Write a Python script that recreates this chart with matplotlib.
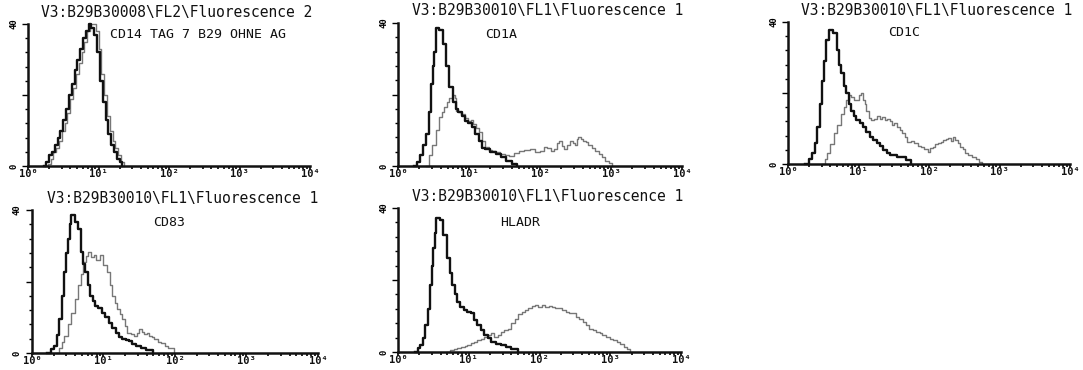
import numpy as np
import matplotlib.pyplot as plt
from matplotlib.ticker import LogLocator, MultipleLocator, NullFormatter

# --- Data (x in log10 fluorescence channel, y = cell count) ---
cd14_ctrl_x = [0.22, 0.26, 0.30, 0.34, 0.38, 0.42, 0.46, 0.50, 0.54, 0.58, 0.62, 0.66, 0.70, 0.74, 0.78,
               0.82, 0.86, 0.90, 0.94, 0.98, 1.02, 1.06, 1.10, 1.14, 1.18, 1.22, 1.26, 1.30, 1.34]
cd14_ctrl_y = [0, 1, 3, 4, 6, 8, 10, 13, 16, 20, 23, 27, 30, 33, 36, 38, 40, 39, 37, 32, 24, 18, 13, 9, 6, 4, 2, 1, 0]
cd14_stain_x = [0.24, 0.28, 0.32, 0.36, 0.40, 0.44, 0.48, 0.52, 0.56, 0.60, 0.64, 0.68, 0.72, 0.76, 0.80,
                0.84, 0.88, 0.92, 0.96, 1.00, 1.04, 1.08, 1.12, 1.16, 1.20, 1.24, 1.28, 1.32, 1.36]
cd14_stain_y = [0, 0.5, 2, 4, 5, 7, 10, 12, 15, 19, 22, 26, 29, 32, 35, 38, 40, 40, 38, 33, 26, 20, 14, 10, 7, 5, 3, 1, 0]

cd1a_ctrl_x = [0.22, 0.27, 0.31, 0.35, 0.39, 0.43, 0.46, 0.49, 0.51, 0.54, 0.58, 0.63, 0.68, 0.72, 0.77,
               0.81, 0.85, 0.90, 0.94, 0.99, 1.04, 1.09, 1.14, 1.19, 1.23, 1.30, 1.38, 1.45, 1.52, 1.60, 1.67]
cd1a_ctrl_y = [0, 1, 3, 6, 9, 15, 23, 28, 32, 38.5, 38, 34, 28, 22, 18, 16, 15, 14, 12.7, 12, 11, 9, 7, 5,
               4.7, 4, 3.3, 2.5, 1.4, 0.5, 0]
cd1a_stain_x = [0.39, 0.44, 0.48, 0.53, 0.58, 0.62, 0.65, 0.69, 0.72, 0.77, 0.80, 0.82, 0.86, 0.89, 0.94,
                0.99, 1.03, 1.06, 1.10, 1.14, 1.18, 1.23, 1.28, 1.33, 1.38, 1.43, 1.50, 1.57, 1.64, 1.71,
                1.78, 1.86, 1.93, 2.00, 2.05, 2.10, 2.15, 2.20, 2.24, 2.27, 2.31, 2.34, 2.38, 2.42, 2.46,
                2.49, 2.52, 2.54, 2.58, 2.61, 2.65, 2.68, 2.73, 2.78, 2.83, 2.87, 2.92, 2.97, 3.02]
cd1a_stain_y = [0, 3, 6, 10, 13.7, 15, 16.5, 18, 19, 20, 19, 15.5, 15, 14.6, 13.5, 12.7, 13, 11.8, 10.5, 9.4,
                7, 5.2, 4.5, 4.2, 4, 3.3, 3, 2.8, 3.5, 4.2, 4.5, 4.7, 4, 4.2, 5.2, 5, 4.2, 4.8, 6.5, 7,
                5.5, 4.7, 6, 7, 6.5, 6, 7.5, 8, 7.5, 7, 6.8, 6, 5, 4.2, 3.3, 2.4, 1.5, 0.9, 0]

cd1c_ctrl_x = [0.24, 0.30, 0.34, 0.38, 0.41, 0.45, 0.48, 0.51, 0.54, 0.58, 0.64, 0.69, 0.72, 0.75, 0.79,
               0.82, 0.86, 0.89, 0.93, 0.97, 1.02, 1.06, 1.11, 1.16, 1.21, 1.26, 1.31, 1.35, 1.40, 1.45,
               1.55, 1.67, 1.74]
cd1c_ctrl_y = [0, 1.5, 3, 6, 10.5, 17, 23.5, 29, 35, 37.7, 37, 32, 28, 25.5, 22, 20, 17, 15, 13.5, 12.3,
               11.5, 10.5, 9, 7.7, 6.8, 5.8, 5, 4, 3.2, 2.5, 2, 1.1, 0]
cd1c_stain_x = [0.48, 0.53, 0.56, 0.60, 0.65, 0.70, 0.75, 0.79, 0.82, 0.86, 0.89, 0.93, 0.97, 1.01, 1.04,
                1.06, 1.09, 1.11, 1.15, 1.18, 1.22, 1.26, 1.30, 1.33, 1.37, 1.40, 1.44, 1.47, 1.51, 1.55,
                1.59, 1.62, 1.66, 1.69, 1.74, 1.79, 1.84, 1.88, 1.93, 1.98, 2.02, 2.05, 2.09, 2.13, 2.17,
                2.20, 2.24, 2.27, 2.31, 2.34, 2.37, 2.41, 2.44, 2.48, 2.51, 2.56, 2.61, 2.66, 2.71, 2.75]
cd1c_stain_y = [0, 1.5, 3, 5.5, 8.6, 11, 14, 16, 18, 19.5, 19, 18, 18, 19.4, 20, 18, 17, 15, 13, 12.3, 12.8,
                13.5, 12.8, 13.3, 12.5, 12.8, 12, 11, 11.5, 10.5, 9.5, 8.6, 7.5, 6.3, 6.5, 5.8, 5.2, 4.9,
                4.2, 3.5, 4.5, 4.9, 5.5, 5.8, 6.2, 6.7, 7, 7.2, 6.5, 7.5, 6.7, 6, 4.9, 4.2, 3, 2.5, 2,
                1.4, 0.7, 0]

cd83_ctrl_x = [0.21, 0.27, 0.31, 0.35, 0.38, 0.42, 0.45, 0.48, 0.50, 0.53, 0.55, 0.60, 0.65, 0.69, 0.72,
               0.74, 0.78, 0.81, 0.85, 0.88, 0.93, 0.98, 1.02, 1.07, 1.12, 1.17, 1.22, 1.26, 1.31, 1.36,
               1.40, 1.45, 1.52, 1.60, 1.69]
cd83_ctrl_y = [0, 1, 1.9, 5, 9.4, 16, 22.6, 28, 32, 36, 38.6, 36.7, 34.8, 28.3, 25, 22.6, 19, 16, 14.5,
               13.2, 12.5, 11.3, 10, 8.5, 7, 5.7, 4.5, 3.8, 3.5, 3.3, 2.5, 1.9, 1.4, 0.9, 0]
cd83_stain_x = [0.33, 0.38, 0.42, 0.45, 0.50, 0.55, 0.60, 0.64, 0.68, 0.71, 0.75, 0.79, 0.83, 0.87, 0.90,
                0.95, 1.00, 1.05, 1.09, 1.12, 1.16, 1.19, 1.23, 1.26, 1.30, 1.33, 1.38, 1.43, 1.47, 1.50,
                1.54, 1.57, 1.61, 1.64, 1.68, 1.71, 1.76, 1.81, 1.86, 1.90, 1.98]
cd83_stain_y = [0, 1.5, 3, 4.7, 8, 11.3, 15, 18.9, 22, 25.5, 27, 28.3, 26.9, 27.5, 26, 27.4, 24.5, 22.6,
                19, 16, 14, 12.3, 11, 9.4, 7.5, 5.7, 5.2, 4.7, 5.5, 6.6, 6, 5.2, 5.5, 4.7, 4.5, 3.8, 3.2,
                2.8, 2, 1.4, 0]

hladr_ctrl_x = [0.24, 0.28, 0.31, 0.35, 0.38, 0.42, 0.45, 0.48, 0.50, 0.52, 0.54, 0.59, 0.64, 0.69, 0.73,
                0.77, 0.80, 0.84, 0.88, 0.93, 0.98, 1.03, 1.07, 1.12, 1.17, 1.22, 1.27, 1.32, 1.39, 1.46,
                1.53, 1.60, 1.70]
hladr_ctrl_y = [0, 1, 1.9, 4, 7.4, 12, 18.6, 24, 28.8, 33, 37.2, 36.7, 32.6, 26, 22, 18.6, 16, 14, 12.5,
                11.6, 11, 10.7, 9, 7.4, 6, 4.7, 3.8, 2.8, 2.3, 1.9, 1.4, 0.9, 0]
hladr_stain_x = [0.69, 0.74, 0.79, 0.84, 0.89, 0.94, 0.98, 1.03, 1.08, 1.12, 1.17, 1.22, 1.27, 1.31, 1.36,
                 1.41, 1.46, 1.50, 1.55, 1.60, 1.65, 1.70, 1.75, 1.79, 1.84, 1.89, 1.93, 1.98, 2.03, 2.08,
                 2.13, 2.17, 2.22, 2.27, 2.32, 2.37, 2.42, 2.46, 2.51, 2.56, 2.61, 2.66, 2.70, 2.75, 2.80,
                 2.85, 2.89, 2.94, 2.99, 3.04, 3.09, 3.14, 3.19, 3.24, 3.28]
hladr_stain_y = [0, 0.6, 0.9, 1.2, 1.4, 1.8, 1.9, 2.5, 2.8, 3.3, 3.7, 4.2, 4.7, 5.2, 4.2, 4.8, 5.6, 6, 6.5,
                 8, 9.3, 10.5, 11.2, 11.8, 12.1, 12.8, 13, 12.5, 13, 12.6, 12.8, 12.6, 12.1, 12.3, 11.6,
                 11.2, 10.7, 10.9, 9.8, 9.3, 8.4, 7.5, 6.5, 6, 5.6, 5.2, 4.7, 4.2, 3.7, 3.3, 2.8, 2.2, 1.4,
                 0.9, 0]

decade_labels = ["10⁰", "10¹", "10²", "10³", "10⁴"]

panels = [
    # title, marker label, (left, top, right, bottom) in px, label pos px, ctrl, stain
    ("V3:B29B30008\\FL2\\Fluorescence 2", "CD14 TAG 7 B29 OHNE AG", (28, 24, 310, 166), (110, 34),
     (cd14_ctrl_x, cd14_ctrl_y), (cd14_stain_x, cd14_stain_y)),
    ("V3:B29B30010\\FL1\\Fluorescence 1", "CD1A", (398, 23, 682, 166), (485, 34),
     (cd1a_ctrl_x, cd1a_ctrl_y), (cd1a_stain_x, cd1a_stain_y)),
    ("V3:B29B30010\\FL1\\Fluorescence 1", "CD1C", (788, 22, 1070, 164), (888, 33),
     (cd1c_ctrl_x, cd1c_ctrl_y), (cd1c_stain_x, cd1c_stain_y)),
    ("V3:B29B30010\\FL1\\Fluorescence 1", "CD83", (32, 210, 318, 353), (153, 222),
     (cd83_ctrl_x, cd83_ctrl_y), (cd83_stain_x, cd83_stain_y)),
    ("V3:B29B30010\\FL1\\Fluorescence 1", "HLADR", (398, 208, 681, 352), (500, 222),
     (hladr_ctrl_x, hladr_ctrl_y), (hladr_stain_x, hladr_stain_y)),
]

W, H = 1083, 370
FONT = "DejaVu Sans Mono"
fig = plt.figure(figsize=(W / 100, H / 100), dpi=100)


def fx(px):
    return px / W


def fy(py):
    return 1 - py / H


for title, label, (l, t, r, b), (lx, ly), ctrl, stain in panels:
    ax = fig.add_axes([fx(l), fy(b), fx(r - l), (b - t) / H])
    ax.set_xscale("log")
    ax.set_xlim(1, 1e4)
    ax.set_ylim(0, 40)
    ax.step(10 ** np.array(stain[0]), stain[1], where="post", color="#777777", lw=1.0, clip_on=False)
    ax.step(10 ** np.array(ctrl[0]), ctrl[1], where="post", color="#111111", lw=1.7, clip_on=False)

    for s in ["top", "right"]:
        ax.spines[s].set_visible(False)
    for s in ["left", "bottom"]:
        ax.spines[s].set_linewidth(1.8)
        ax.spines[s].set_color("#111111")

    ax.xaxis.set_major_locator(LogLocator(base=10, numticks=10))
    ax.xaxis.set_minor_locator(LogLocator(base=10, subs=np.arange(2, 10), numticks=20))
    ax.xaxis.set_major_formatter(NullFormatter())
    ax.xaxis.set_minor_formatter(NullFormatter())
    ax.tick_params(axis="x", which="major", length=3, width=1.2, direction="out")
    ax.tick_params(axis="x", which="minor", length=2, width=1.2, direction="out")
    ax.yaxis.set_major_locator(MultipleLocator(20))
    ax.yaxis.set_minor_locator(MultipleLocator(4))
    ax.set_yticklabels([])
    ax.tick_params(axis="y", which="major", length=4, width=1.0, direction="out")
    ax.tick_params(axis="y", which="minor", length=2, width=1.0, direction="out")

    # decade labels just under the axis
    xtr = ax.get_xaxis_transform()
    for k, dec in enumerate(decade_labels):
        ax.text(10 ** k, -0.055, dec, transform=xtr, ha="center", va="center", fontsize=7.5,
                family=FONT, fontweight="bold", color="#111111")
    ax.text(-0.035, 1.0, "40", transform=ax.transAxes, rotation=90, ha="right", va="center",
            fontsize=6.5, family=FONT, fontweight="bold")
    ax.text(-0.035, 0.0, "0", transform=ax.transAxes, rotation=90, ha="right", va="center",
            fontsize=6.5, family=FONT, fontweight="bold")

    fig.text(fx((l + r) / 2 + 8), fy(t - 12), title, ha="center", va="center", fontsize=10.5,
             family=FONT, color="#111111")
    fig.text(fx(lx), fy(ly), label, ha="left", va="center", fontsize=9.5, family=FONT,
             color="#111111")

fig.savefig("out.png", dpi=100, facecolor="white")
